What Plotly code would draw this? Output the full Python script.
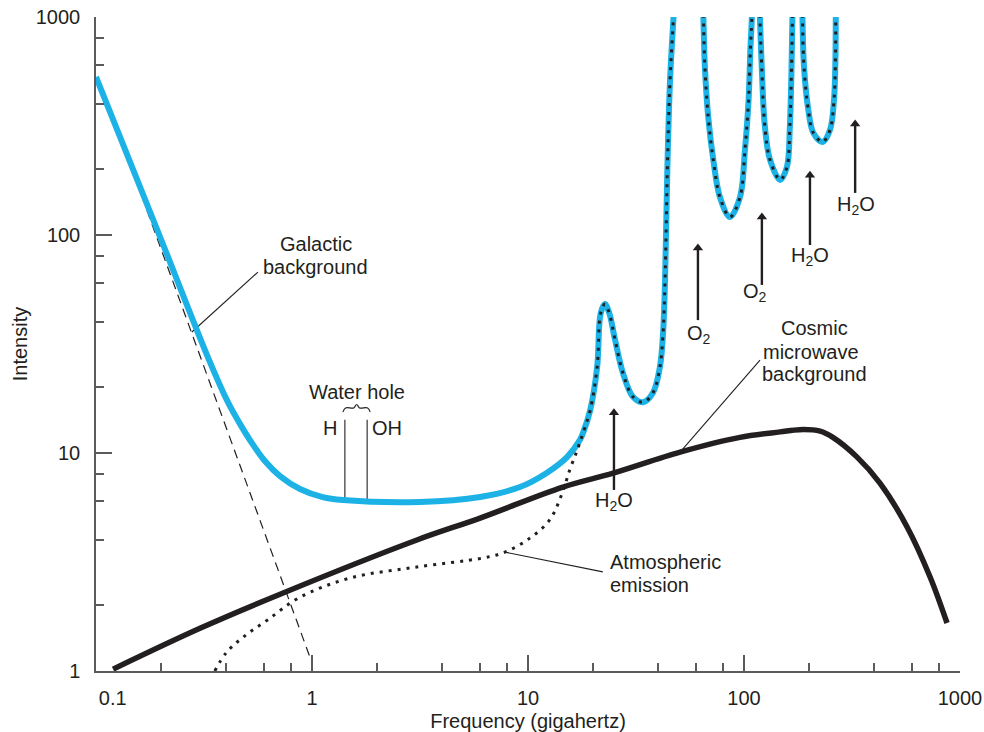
import numpy as np
import plotly.graph_objects as go

# ---------------- data ----------------
# Total sky brightness (blue) below ~18 GHz
blue_low_freq = [0.1, 0.198, 0.337, 0.408, 0.464, 0.527, 0.605, 0.711, 0.88, 1.12, 1.39, 3.16, 6.0, 9.18, 12.2, 15.2, 17.4]
blue_low_int = [531, 97.9, 26.1, 17.1, 13.6, 11.1, 9.19, 7.84, 6.84, 6.28, 6.09, 5.96, 6.28, 6.98, 8.1, 9.6, 11.5]

# Atmospheric emission (dotted) below the merge point
atm_low_freq = [0.355, 0.40, 0.48, 0.62, 0.88, 1.50, 3.06, 6.19, 7.83, 10.2, 12.6, 14.4, 15.6, 16.9]
atm_low_int = [1.0, 1.21, 1.43, 1.71, 2.18, 2.67, 3.0, 3.30, 3.51, 4.07, 4.93, 6.55, 8.36, 10.3]

# Shared part (atmospheric lines dominate the total above ~18 GHz); None = off the top
high_freq = [18.0, 19.4, 20.9, 21.7, 22.7, 23.8, 25.3, 27.5, 30.6, 34.1, 37.9, 40.8, 42.2, 43.1, 44.2, 45.4, 47.1, 48.5, None,
             64.0, 64.9, 65.9, 68.3, 72.1, 77.4, 86.1, 95.8, 101, 105, 107, 108.6, 109.5, None,
             117.5, 118.6, 120.8, 125, 132, 147, 158, 163, 166, 167.5, 168.5, None,
             185.5, 186.6, 189.6, 198.5, 209.4, 231, 250, 261, 265, 266, 267]
high_int = [12.4, 15.7, 24.8, 43.7, 48.2, 43.7, 33, 23.3, 18.1, 17.1, 18.9, 24.8, 35.5, 62, 206, 497, 969, 1500, None,
            1500, 969, 590, 348, 221, 149, 121, 149, 245, 416, 706, 969, 1500, None,
            1500, 969, 590, 313, 221, 179, 205, 313, 590, 969, 1500, None,
            1500, 969, 590, 375, 294, 267, 303, 416, 635, 969, 1500]

# Cosmic microwave background
cmb_freq = [0.12, 0.303, 0.735, 3.06, 6.0, 14.5, 24.8, 50.6, 95.8, 147, 181, 225, 258, 333, 426, 569, 727, 871]
cmb_int = [1.02, 1.57, 2.28, 3.99, 5.03, 6.98, 8.09, 10.1, 11.8, 12.5, 12.8, 12.6, 11.8, 9.6, 7.28, 4.58, 2.70, 1.66]

# Galactic background alone (dashed)
gal_freq = [0.172, 1.0]
gal_int = [130, 1.09]

# Spectral-line arrows
arrow_freq = [25.0, 61.2, 121, 202, 327]
arrow_tip = [15.3, 87.2, 121, 188, 323]
arrow_tail = [6.77, 40.7, 59, 90, 156]
arrow_label = ["H<sub>2</sub>O", "O<sub>2</sub>", "O<sub>2</sub>", "H<sub>2</sub>O", "H<sub>2</sub>O"]
label_freq = [25.0, 61.9, 112, 203, 330]
label_int = [5.98, 34.8, 54.6, 80.1, 137]

# Water hole markers
h_freq, oh_freq = 1.42, 1.8
hole_low, hole_high = 6.09, 14.2
brace_freq = [1.39, 1.43, 1.56, 1.61, 1.66, 1.81, 1.86]
brace_int = [15.4, 16.1, 16.1, 16.7, 16.1, 16.1, 15.4]

# Leader lines
gal_leader_freq, gal_leader_int = [0.278, 0.562], [35.9, 67.6]
cmb_leader_freq, cmb_leader_int = [50.6, 118.6], [10.1, 26.7]
atm_leader_freq, atm_leader_int = [7.83, 22.2], [3.51, 2.85]

x_ticks = [0.1, 1, 10, 100, 1000]
x_ticktext = ["\u00a0\u00a0\u00a0\u00a0\u00a0\u00a00.1", "1", "10", "100", "1000"]
y_ticks = [1, 10, 100, 1000]
y_ticktext = ["1", "10", "100", "1000"]
minor_vals = [m * d for d in [0.1, 1, 10, 100] for m in [2, 4, 6, 8]]

# ---------------- styling ----------------
BLUE = "#1db2e6"
INK = "#231f20"
AXIS = "#5a5b5d"
FONT = "Liberation Sans, Arial, sans-serif"

fig = go.Figure()

def line(xs, ys, color=INK, width=1.0, dash=None, shape="linear"):
    fig.add_trace(go.Scatter(x=xs, y=ys, mode="lines", hoverinfo="skip",
                             line=dict(color=color, width=width, dash=dash, shape=shape),
                             showlegend=False, connectgaps=False))

# galactic dashed
line(gal_freq, gal_int, width=1.2, dash="9px,6px")
# leaders
line(gal_leader_freq, gal_leader_int, width=1.1)
line(cmb_leader_freq, cmb_leader_int, width=1.1)
line(atm_leader_freq, atm_leader_int, width=1.1)
# water hole lines and brace
line([h_freq, h_freq], [hole_low, hole_high], width=1.1)
line([oh_freq, oh_freq], [hole_low, hole_high], width=1.1)
line(brace_freq, brace_int, width=1.1, shape="spline")
# CMB
line(cmb_freq, cmb_int, width=5.5, shape="spline")
# total (blue)
line(blue_low_freq + high_freq, blue_low_int + high_int, color=BLUE, width=6, shape="spline")
# atmospheric (dotted)
line(atm_low_freq + high_freq, atm_low_int + high_int, width=3, dash="3px,6px", shape="spline")

# spectral-line arrows: shaft + head
for f, tip, tail in zip(arrow_freq, arrow_tip, arrow_tail):
    line([f, f], [tail, tip], width=2.4)
fig.add_trace(go.Scatter(x=arrow_freq, y=arrow_tip, mode="markers", hoverinfo="skip", showlegend=False,
                         marker=dict(symbol="triangle-up", size=9, color=INK, line=dict(width=0))))

annotations = []
def text(f, v, t, anchor="center"):
    annotations.append(dict(x=np.log10(f), y=np.log10(v), text=t, showarrow=False,
                            xanchor=anchor, yanchor="middle", font=dict(size=20, color=INK, family=FONT)))

for f, v, t in zip(label_freq, label_int, arrow_label):
    text(f, v, t)

text(1.04, 91, "Galactic")
text(1.04, 71.3, "background")
text(1.61, 19.0, "Water hole")
text(1.21, 13.0, "H")
text(2.22, 13.0, "OH")
text(213, 37.4, "Cosmic")
text(205, 29.1, "microwave")
text(213, 23.0, "background")
text(23.4, 3.16, "Atmospheric", "left")
text(23.4, 2.48, "emission", "left")

axis_common = dict(
    type="log", showline=True, linecolor=AXIS, linewidth=1.5, mirror=False,
    ticks="inside", ticklen=16, tickwidth=1.5, tickcolor=AXIS,
    showgrid=False, zeroline=False, automargin=False,
    tickfont=dict(size=20, color=INK, family=FONT),
    minor=dict(tickvals=minor_vals, ticks="inside", ticklen=8, tickwidth=1.5, tickcolor=AXIS, showgrid=False),
)

fig.update_layout(
    width=984, height=732,
    margin=dict(l=96, r=24, t=17, b=61),
    paper_bgcolor="white", plot_bgcolor="white",
    font=dict(family=FONT, size=20, color=INK),
    xaxis=dict(axis_common, range=[-1, 3], tickmode="array", tickvals=x_ticks, ticktext=x_ticktext,
               ticklabelstandoff=8,
               title=dict(text="Frequency (gigahertz)", standoff=6, font=dict(size=20, color=INK, family=FONT))),
    yaxis=dict(axis_common, range=[0, 3], tickmode="array", tickvals=y_ticks, ticktext=y_ticktext,
               ticklabelstandoff=10,
               title=dict(text="Intensity", standoff=3, font=dict(size=20, color=INK, family=FONT))),
    annotations=annotations,
)

# remove the browser's default body margin so the 984x732 figure fills the window exactly
fig.write_html("out.html", config={"displayModeBar": False},
               post_script="document.body.style.margin='0';document.body.style.overflow='hidden';")
